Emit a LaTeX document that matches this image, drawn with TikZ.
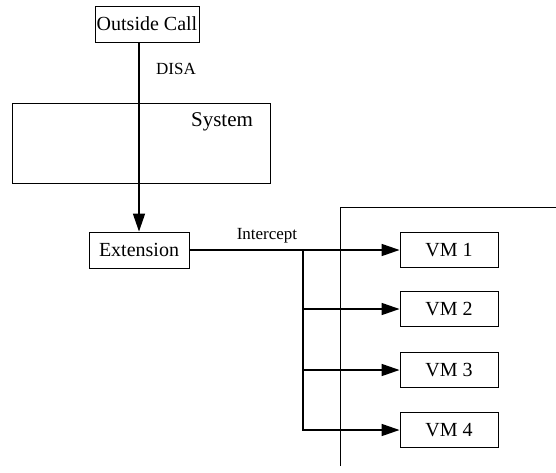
\documentclass[tikz,border=0pt]{standalone}
\usepackage{fontspec}
\setmainfont{Liberation Serif}
\usetikzlibrary{arrows.meta}
\begin{document}
\begin{tikzpicture}[x=1pt,y=-1pt,
  box/.style={draw, line width=0.9pt, inner sep=0pt, font=\fontsize{20}{22}\selectfont},
  lbl/.style={inner sep=0pt, font=\fontsize{17}{19}\selectfont},
  flow/.style={line width=1.6pt, -{Triangle[length=18pt,width=12pt]}},
  thin/.style={line width=0.8pt}]
\useasboundingbox (0,0) rectangle (556,472);
\node[box, minimum width=104pt, minimum height=36pt] (oc) at (147,24) {Outside Call};
\node[box, minimum width=258pt, minimum height=80pt] (sys) at (141,143) {};
\node[lbl, font=\fontsize{21}{23}\selectfont] (systxt) at (222,122) {System};
\node[lbl] (disa) at (176,69) {DISA};
\node[box, minimum width=100pt, minimum height=36pt] (ext) at (139,250) {Extension};
\node[lbl] (icp) at (267,236) {Intercept};
\node[box, minimum width=98pt, minimum height=35pt] (vm1) at (449,250) {VM 1};
\node[box, minimum width=98pt, minimum height=35pt] (vm2) at (449,309) {VM 2};
\node[box, minimum width=98pt, minimum height=35pt] (vm3) at (449,370) {VM 3};
\node[box, minimum width=98pt, minimum height=35pt] (vm4) at (449,430) {VM 4};
\coordinate (br) at (303,250);
\coordinate (g1) at (340,466);
\coordinate (g2) at (340,207);
\coordinate (g3) at (556,207);
\draw[thin] (g1) -- (g2) -- (g3);
\draw[flow] (ext.north |- oc.south) -- (ext.north);
\draw[flow] (ext.east) -- (vm1.west);
\draw[flow] (br) |- (vm4.west);
\draw[flow] (br |- vm2.west) -- (vm2.west);
\draw[flow] (br |- vm3.west) -- (vm3.west);
\end{tikzpicture}
\end{document}
